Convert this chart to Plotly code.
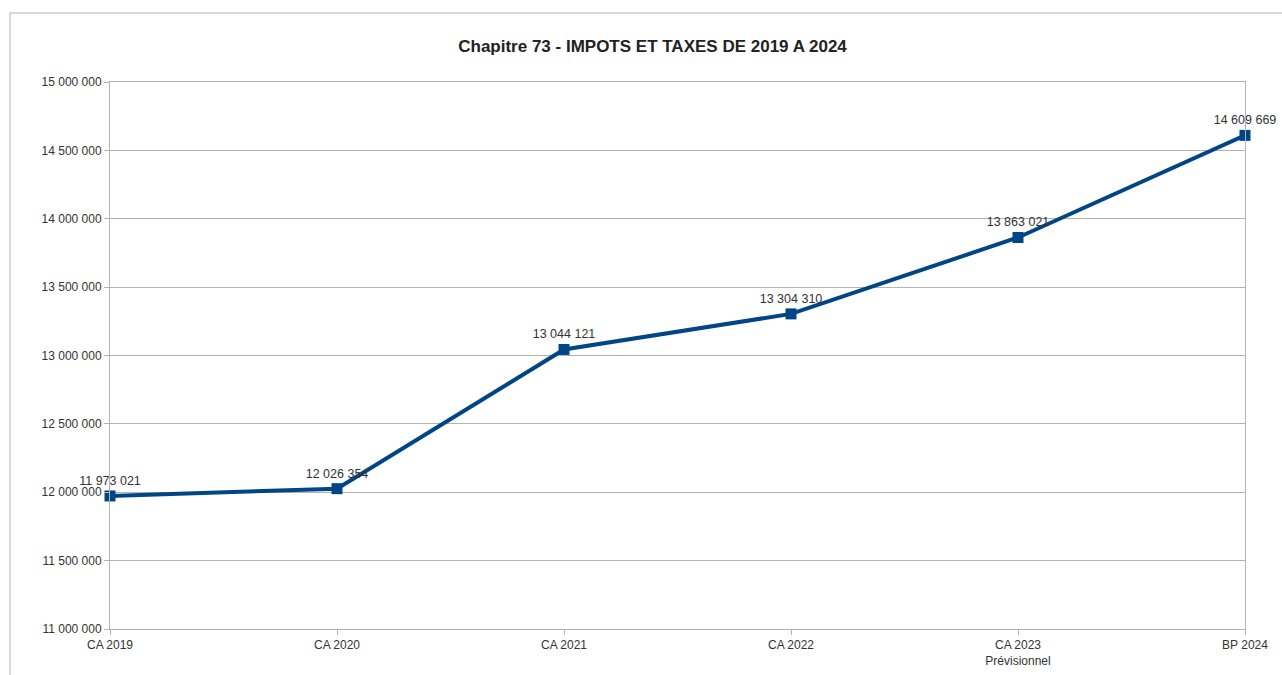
import plotly.graph_objects as go

categories = ["CA 2019", "CA 2020", "CA 2021", "CA 2022", "CA 2023<br>Prévisionnel", "BP 2024"]
values = [11973021, 12026354, 13044121, 13304310, 13863021, 14609669]
y_ticks = [11000000, 11500000, 12000000, 12500000, 13000000, 13500000, 14000000, 14500000, 15000000]

W, H = 1282, 675
L, R, T, B = 110, 37, 82, 46
pw, ph = W - L - R, H - T - B
FONT = "Liberation Sans, Arial, sans-serif"

fig = go.Figure()
fig.add_trace(go.Scatter(
    x=list(range(len(categories))), y=values,
    mode="lines+markers+text",
    line=dict(color="#004586", width=4),
    marker=dict(symbol="square", size=11, color="#004586"),
    texttemplate="%{y:,.0f}",
    textposition="top center",
    textfont=dict(family=FONT, size=12.5, color="#333333"),
    cliponaxis=False,
    showlegend=False,
    hoverinfo="skip",
))

fig.update_layout(
    width=W, height=H,
    margin=dict(l=L, r=R, t=T, b=B, autoexpand=False),
    paper_bgcolor="white", plot_bgcolor="white",
    separators=", ",
    title=dict(text="<b>Chapitre 73 - IMPOTS ET TAXES DE 2019 A 2024</b>",
               font=dict(family=FONT, size=17, color="#222222"),
               x=0.509, xref="container", xanchor="center",
               y=1 - 46 / H, yref="container", yanchor="middle"),
    xaxis=dict(
        range=[0, len(categories) - 1], automargin=False,
        tickmode="array", tickvals=list(range(len(categories))), ticktext=categories,
        showgrid=False, zeroline=False,
        showline=True, linecolor="#b3b3b3", linewidth=1, mirror=True,
        ticks="outside", ticklen=5, tickcolor="#b3b3b3",
        tickfont=dict(family=FONT, size=12, color="#333333"),
    ),
    yaxis=dict(
        range=[11000000, 15000000], automargin=False,
        tickmode="array", tickvals=y_ticks, tickformat=",.0f",
        showgrid=True, gridcolor="#b3b3b3", gridwidth=1, zeroline=False,
        showline=True, linecolor="#b3b3b3", linewidth=1, mirror=True,
        ticks="outside", ticklen=5, tickcolor="#b3b3b3",
        tickfont=dict(family=FONT, size=12, color="#333333"),
    ),
    shapes=[dict(
        type="rect", xref="paper", yref="paper",
        x0=(10 - L) / pw, x1=(W + 60 - L) / pw,
        y0=(H - B - (H + 60)) / ph, y1=(H - B - 13) / ph,
        line=dict(color="#cccccc", width=1.5), fillcolor="rgba(0,0,0,0)", layer="below",
    )],
)

fig.write_html("out.html", config={"displayModeBar": False},
               post_script="document.body.style.margin='0';document.body.style.overflow='hidden';")
